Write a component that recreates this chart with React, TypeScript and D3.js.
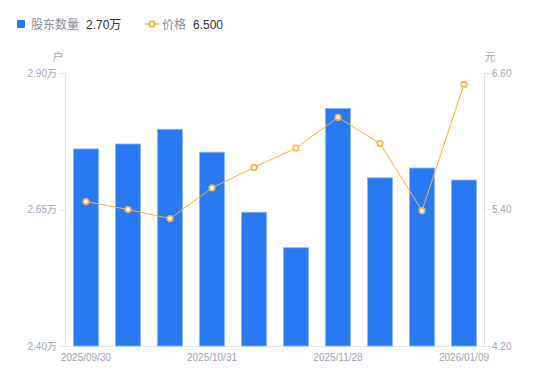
import React from "react";
import * as d3 from "d3";

const dates = ["2025/09/30", "2025/10/10", "2025/10/20", "2025/10/31", "2025/11/10", "2025/11/20", "2025/11/28", "2025/12/12", "2025/12/31", "2026/01/09"];
const holders = [2.761, 2.77, 2.797, 2.755, 2.645, 2.58, 2.835, 2.708, 2.726, 2.704];
const prices = [5.47, 5.4, 5.32, 5.59, 5.77, 5.94, 6.21, 5.98, 5.39, 6.5];
const leftTicks = [2.4, 2.65, 2.9];
const rightTicks = [4.2, 5.4, 6.6];
const shownDates = ["2025/09/30", "2025/10/31", "2025/11/28", "2026/01/09"];

const W = 550, H = 381;
const M = { left: 65, right: 485, top: 73, bottom: 346 };
const FONT = '"Liberation Sans", Arial, "Noto Sans CJK SC", sans-serif';
const BLUE = "#2979f5";
const ORANGE = "#f7b13c";
const GRAY = "#a3a6b4";
const AXIS = "#e3e4e8";

export default function App() {
  const x = d3.scaleBand<string>().domain(dates).range([M.left, M.right]);
  const yL = d3.scaleLinear().domain([2.4, 2.9]).range([M.bottom, M.top]);
  const yR = d3.scaleLinear().domain([4.2, 6.6]).range([M.bottom, M.top]);
  const bw = 25;
  const cx = (d: string) => (x(d) as number) + x.bandwidth() / 2;
  const line = d3.line<number>().x((_, i) => cx(dates[i])).y((v) => yR(v));

  return (
    <svg width={W} height={H} style={{ position: "absolute", left: 0, top: 0, fontFamily: FONT }}>
      <rect width={W} height={H} fill="#fff" />
      {/* legend */}
      <rect x={17} y={20} width={8} height={8} rx={1} fill={BLUE} />
      <text x={31} y={28.5} fontSize={12} fill="#8a8d99">股东数量</text>
      <text x={86} y={28.5} fontSize={12} fill="#333">{d3.format(".2f")(holders[holders.length - 1])}万</text>
      <line x1={145} x2={159} y1={24} y2={24} stroke={ORANGE} strokeWidth={1.5} />
      <circle cx={152} cy={24} r={2.8} fill="#fff" stroke={ORANGE} strokeWidth={1.6} />
      <text x={162} y={28.5} fontSize={12} fill="#8a8d99">价格</text>
      <text x={193} y={28.5} fontSize={12} fill="#333">{d3.format(".3f")(prices[prices.length - 1])}</text>

      {/* unit labels */}
      <text x={58} y={61} fontSize={11} fill={GRAY} textAnchor="middle">户</text>
      <text x={490} y={61} fontSize={11} fill={GRAY} textAnchor="middle">元</text>

      {/* axes */}
      <line x1={M.left + 0.5} x2={M.left + 0.5} y1={M.top} y2={M.bottom} stroke={AXIS} />
      <line x1={M.right - 0.5} x2={M.right - 0.5} y1={M.top} y2={M.bottom} stroke={AXIS} />
      <line x1={M.left} x2={M.right} y1={M.bottom + 0.5} y2={M.bottom + 0.5} stroke={AXIS} />
      {leftTicks.map((t) => (
        <g key={"l" + t}>
          <line x1={59} x2={M.left} y1={Math.round(yL(t)) + 0.5} y2={Math.round(yL(t)) + 0.5} stroke={AXIS} />
          <text x={57} y={yL(t) + 3.5} fontSize={10} fill={GRAY} textAnchor="end">{d3.format(".2f")(t)}万</text>
        </g>
      ))}
      {rightTicks.map((t) => (
        <g key={"r" + t}>
          <line x1={M.right} x2={491} y1={Math.round(yR(t)) + 0.5} y2={Math.round(yR(t)) + 0.5} stroke={AXIS} />
          <text x={492} y={yR(t) + 3.5} fontSize={10} fill={GRAY}>{d3.format(".2f")(t)}</text>
        </g>
      ))}
      {shownDates.map((d) => (
        <text key={d} x={cx(d)} y={361} fontSize={10} fill={GRAY} textAnchor="middle">{d}</text>
      ))}

      {/* bars */}
      {holders.map((v, i) => (
        <rect key={i} x={cx(dates[i]) - bw / 2} y={yL(v)} width={bw} height={M.bottom - yL(v)}
          fill={BLUE} stroke="#8cb6f8" strokeWidth={0.8} />
      ))}

      {/* price line */}
      <path d={line(prices) || ""} fill="none" stroke={ORANGE} strokeWidth={1} />
      {prices.map((v, i) => (
        <circle key={i} cx={cx(dates[i])} cy={yR(v)} r={2.8} fill="#fff" stroke={ORANGE} strokeWidth={1.6} />
      ))}
    </svg>
  );
}
